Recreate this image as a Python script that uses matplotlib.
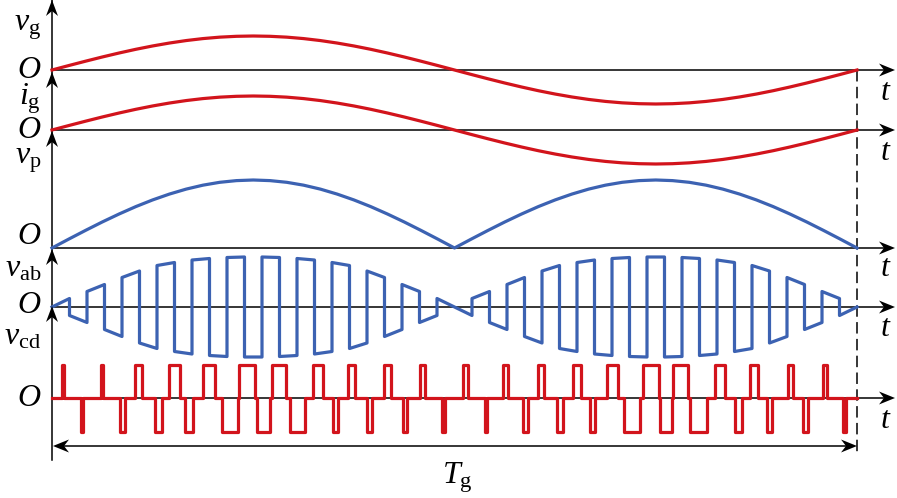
import numpy as np
import matplotlib.pyplot as plt
from matplotlib.patches import Polygon

plt.rcParams['font.family'] = 'Liberation Serif'
plt.rcParams['mathtext.fontset'] = 'custom'
plt.rcParams['mathtext.it'] = 'Liberation Serif:italic'
plt.rcParams['mathtext.rm'] = 'Liberation Serif'

RED = '#D2141C'
BLUE = '#3C62B2'

# grid period Tg = 1, values normalised to the peak of each trace
half_wave = [0, .131, .259, .383, .5, .609, .707, .793, .866, .924, .966, .991, 1.0,
             .991, .966, .924, .866, .793, .707, .609, .5, .383, .259, .131, 0]
vg = half_wave + [-v for v in half_wave[1:]]
ig = half_wave + [-v for v in half_wave[1:]]
vp = half_wave + half_wave[1:]
t_grid = np.linspace(0, 1, len(vg))

# envelope of v_ab at the switching edges of one half period (23 intervals)
vab_env = [0, .17, .31, .45, .59, .72, .83, .89, .94, .97, .99, 1.0,
           1.0, .99, .97, .94, .89, .83, .72, .59, .45, .31, .17, 0]

# v_cd pulses (start, end) as fraction of Tg
vcd_pos = [(.0130, .0149), (.0609, .0634), (.1031, .1114), (.1453, .1590),
           (.1876, .2025), (.2317, .2522), (.2729, .2903), (.3242, .3366),
           (.3677, .3764), (.4124, .4207), (.4571, .4634),
           (.5106, .5164), (.5602, .5665), (.6037, .6112), (.6472, .6571),
           (.6894, .7031), (.7342, .7540), (.7714, .7901), (.8236, .8360),
           (.8671, .8770), (.9139, .9205), (.9578, .9627)]
vcd_neg = [(.0366, .0385), (.0845, .0907), (.1280, .1363), (.1652, .1752),
           (.2108, .2307), (.2543, .2708), (.2957, .3143), (.3491, .3553),
           (.3909, .3971), (.4360, .4406), (.4845, .4876),
           (.5373, .5398), (.5851, .5913), (.6273, .6348), (.6683, .6745),
           (.7106, .7304), (.7553, .7698), (.7925, .8133), (.8484, .8571),
           (.8878, .8944), (.9329, .9388), (.9826, .9863)]

# pixel layout
X0, W = 52, 805
def px(x):
    return (x - X0) / W

fig = plt.figure(figsize=(8.97, 4.98), dpi=100)
ax = fig.add_axes([0, 0, 1, 1])
ax.set_xlim(px(0), px(897))
ax.set_ylim(498, 0)
ax.axis('off')

base = {'vg': 70, 'ig': 130, 'vp': 248, 'vab': 307, 'vcd': 398}

def up_head(xp, yp):
    pts = [(xp, yp), (xp - 6, yp + 16), (xp, yp + 11), (xp + 6, yp + 16)]
    ax.add_patch(Polygon([(px(a), b) for a, b in pts], closed=True,
                         color='black', lw=0, zorder=5))

def side_head(xp, yp, d=1):
    pts = [(xp, yp), (xp - d*16, yp - 6.5), (xp - d*11, yp), (xp - d*16, yp + 6.5)]
    ax.add_patch(Polygon([(px(a), b) for a, b in pts], closed=True,
                         color='black', lw=0, zorder=5))

# axes
ax.plot([0, 0], [0, 460], color='black', lw=1.1, zorder=1)
for y in base.values():
    ax.plot([0, px(885)], [y, y], color='black', lw=1.1, zorder=1)
    side_head(895, y)
for yt in [0, 72, 131, 249, 306]:
    up_head(X0, yt)

# period marks
ax.plot([1, 1], [70, 454], color='black', lw=1.1, dashes=(7.5, 3.5), zorder=1)
ax.plot([px(60), px(850)], [446, 446], color='black', lw=1.1, zorder=1)
side_head(857, 446)
side_head(53, 446, d=-1)

# waveforms
ax.plot(t_grid, base['vg'] - 34*np.array(vg), color=RED, lw=2.3, zorder=3)
ax.plot(t_grid, base['ig'] - 34*np.array(ig), color=RED, lw=2.3, zorder=3)
ax.plot(t_grid, base['vp'] - 68*np.array(vp), color=BLUE, lw=2.3, zorder=3)

n_int = 2*(len(vab_env) - 1)
env_full = vab_env + vab_env[1:]
tv, yv = [], []
for i in range(n_int):
    s = 1 if i % 2 == 0 else -1
    tv += [i/n_int, (i+1)/n_int]
    yv += [s*env_full[i], s*env_full[i+1]]
ax.plot(tv, base['vab'] - 50*np.array(yv), color=BLUE, lw=2.3, zorder=3)

pulses = sorted([(a, b, 1) for a, b in vcd_pos] + [(a, b, -1) for a, b in vcd_neg])
tc, yc = [0], [0]
for a, b, s in pulses:
    tc += [a, a, b, b]
    yc += [0, s, s, 0]
tc.append(1)
yc.append(0)
ax.plot(tc, base['vcd'] - 33.5*np.array(yc), color=RED, lw=2.3, zorder=3)

# labels
fs = 23
labels = [(r'$v_{\mathrm{g}}$', 27), (r'$O$', 70), (r'$i_{\mathrm{g}}$', 99), (r'$O$', 130),
          (r'$v_{\mathrm{p}}$', 160), (r'$O$', 236), (r'$v_{\mathrm{ab}}$', 269),
          (r'$O$', 305), (r'$v_{\mathrm{cd}}$', 337), (r'$O$', 398)]
for s, y in labels:
    ax.text(px(41), y, s, fontsize=fs, ha='right', va='center')
for y in [92, 152, 268, 328, 420]:
    ax.text(px(886), y, r'$t$', fontsize=fs, ha='center', va='center')
ax.text(px(457), 478, r'$T_{\mathrm{g}}$', fontsize=fs, ha='center', va='center')

fig.savefig('out.png', dpi=100)
